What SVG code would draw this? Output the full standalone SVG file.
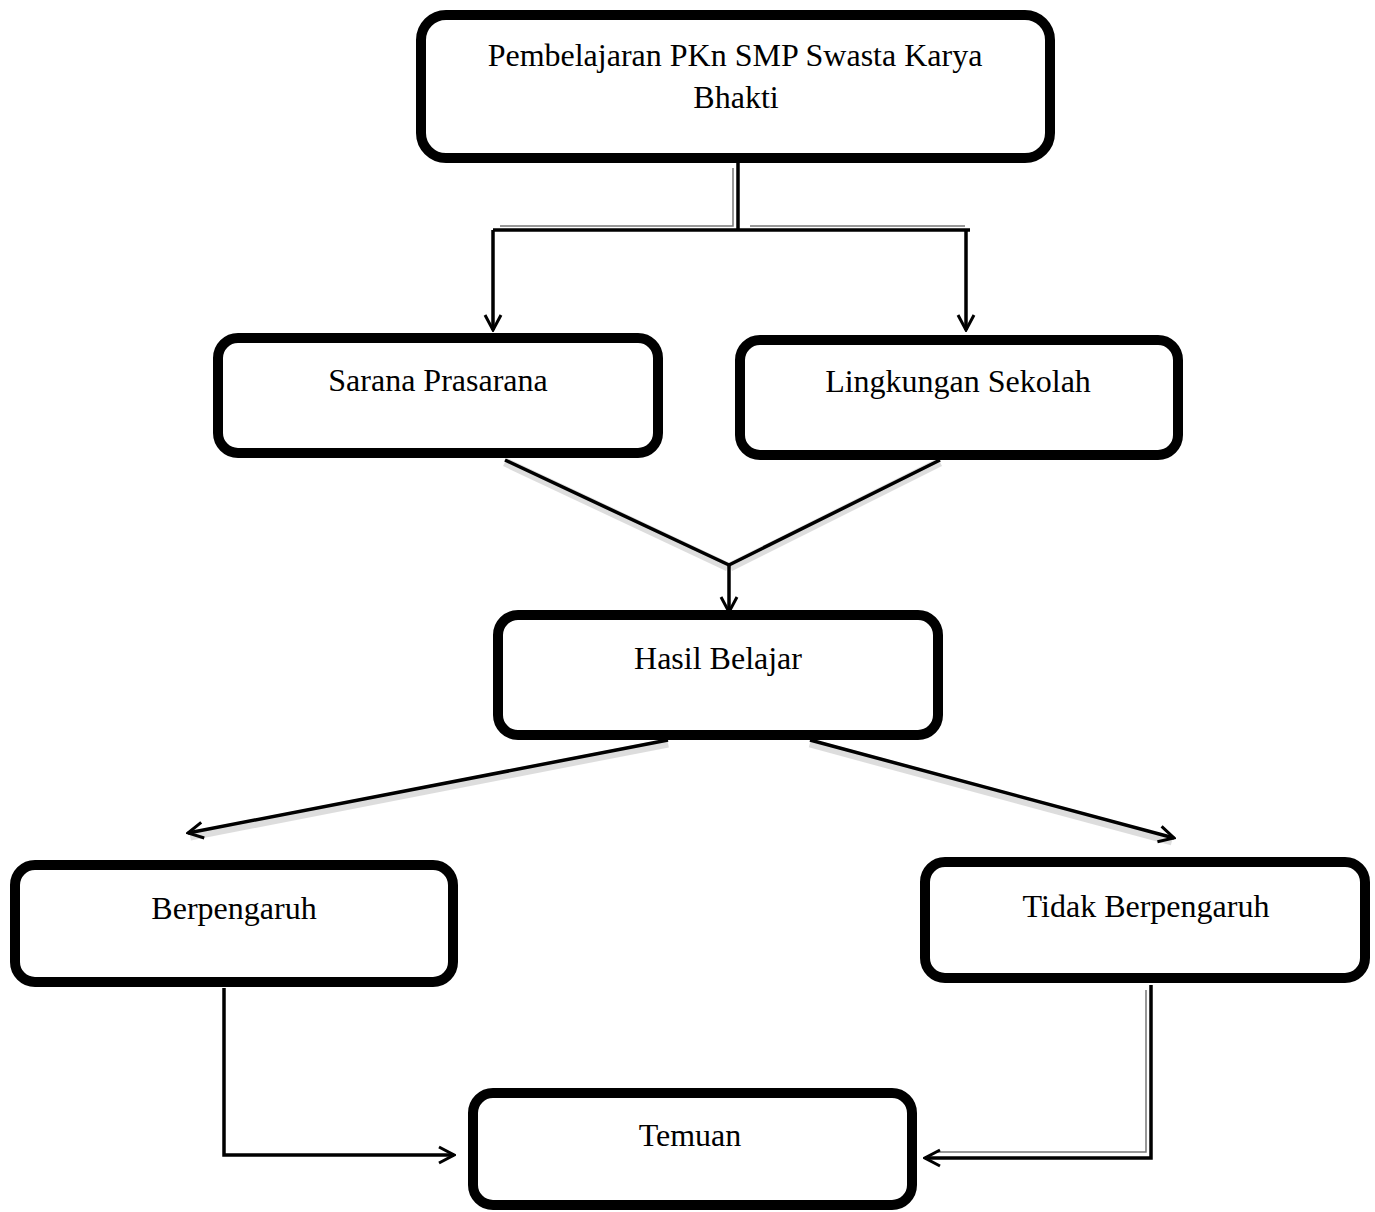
<svg xmlns="http://www.w3.org/2000/svg" width="1375" height="1212" viewBox="0 0 1375 1212">
  <defs>
    <marker id="arr" viewBox="0 0 20 20" refX="18" refY="10" markerWidth="20" markerHeight="20" markerUnits="userSpaceOnUse" orient="auto">
      <path d="M3,2 L18,10 L3,18" fill="none" stroke="#000" stroke-width="3"/>
    </marker>
    <style>
      .box { fill: #fff; stroke: #000; stroke-width: 10; }
      .lbl { font-family: "Liberation Serif", "Times New Roman", serif; font-size: 32px; fill: #000; text-anchor: middle; }
      .ln { fill: none; stroke: #000; stroke-width: 3.5; }
      .sh { fill: none; stroke: #bbb; stroke-width: 9; opacity: 0.5; }
      .thin { fill: none; stroke: #777; stroke-width: 1.5; }
    </style>
  </defs>
  <rect width="1375" height="1212" fill="#fff"/>

  <g id="connectors">
    <path class="thin" d="M733,168 V226 H500 M750,226 H965"/>
    <path class="ln" d="M738,163 V230 M493,230 H970"/>
    <path class="ln" d="M493,230 V330" marker-end="url(#arr)"/>
    <path class="ln" d="M966,230 V330" marker-end="url(#arr)"/>

    <path class="sh" d="M505,462 L728,567 M940,462 L730,567"/>
    <path class="ln" d="M505,460 L729,565 M940,460 L729,565"/>
    <path class="ln" d="M729,565 V612" marker-end="url(#arr)"/>

    <path class="sh" d="M668,743 L190,836 M810,743 L1172,841"/>
    <path class="ln" d="M668,740 L188,833" marker-end="url(#arr)"/>
    <path class="ln" d="M810,740 L1174,838" marker-end="url(#arr)"/>

    <path class="ln" d="M224,988 V1155 H454" marker-end="url(#arr)"/>
    <path class="thin" d="M1146,990 V1152 H935"/>
    <path class="ln" d="M1151,985 V1158 H925" marker-end="url(#arr)"/>
  </g>

  <g id="node-pembelajaran">
    <rect class="box" x="421" y="15" width="629" height="143" rx="25"/>
    <text class="lbl" x="735" y="66">Pembelajaran PKn SMP Swasta Karya</text>
    <text class="lbl" x="736" y="108">Bhakti</text>
  </g>
  <g id="node-sarana">
    <rect class="box" x="218" y="338" width="440" height="115" rx="20"/>
    <text class="lbl" x="438" y="391">Sarana Prasarana</text>
  </g>
  <g id="node-lingkungan">
    <rect class="box" x="740" y="340" width="438" height="115" rx="20"/>
    <text class="lbl" x="958" y="392">Lingkungan Sekolah</text>
  </g>
  <g id="node-hasil">
    <rect class="box" x="498" y="615" width="440" height="120" rx="20"/>
    <text class="lbl" x="718" y="669">Hasil Belajar</text>
  </g>
  <g id="node-berpengaruh">
    <rect class="box" x="15" y="865" width="438" height="117" rx="20"/>
    <text class="lbl" x="234" y="919">Berpengaruh</text>
  </g>
  <g id="node-tidak">
    <rect class="box" x="925" y="862" width="440" height="116" rx="20"/>
    <text class="lbl" x="1146" y="917">Tidak Berpengaruh</text>
  </g>
  <g id="node-temuan">
    <rect class="box" x="473" y="1093" width="439" height="112" rx="20"/>
    <text class="lbl" x="690" y="1146">Temuan</text>
  </g>
</svg>
